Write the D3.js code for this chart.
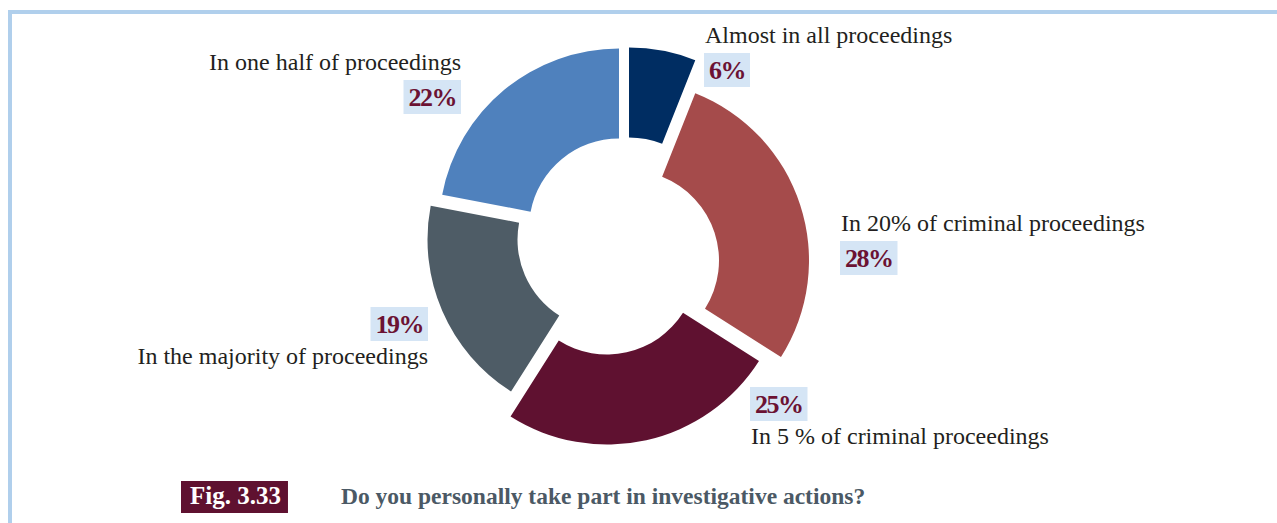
<!DOCTYPE html>
<html>
<head>
<meta charset="utf-8">
<script src="https://cdn.jsdelivr.net/npm/d3@7/dist/d3.min.js"></script>
<style>
  html, body { margin: 0; padding: 0; background: #ffffff; }
  svg { display: block; }
</style>
</head>
<body>
<svg id="chart" width="1277" height="523"></svg>
<script>
// Survey answers, clockwise from twelve o'clock
const categories = [
  "Almost in all proceedings",
  "In 20% of criminal proceedings",
  "In 5 % of criminal proceedings",
  "In the majority of proceedings",
  "In one half of proceedings"
];
const shares = [6, 28, 25, 19, 22];
const sliceColors = ["#002d62", "#a54b4b", "#5f1130", "#4e5c66", "#4f81bd"];

const figureNumber = "Fig. 3.33";
const figureTitle = "Do you personally take part in investigative actions?";

// How far each slice is pulled away from the ring centre (exploded doughnut)
const sliceShift = [
  [11, -16.5],
  [11, 16.5],
  [-11, 20.5],
  [-10.5, -4.5],
  [1, -15.5]
];

// Label layout: where each category text and its percentage badge sit
// side: "start" grows right from x, "end" grows left to x
// order: "text-first" puts the category above the badge
const labelLayout = [
  { x: 705, side: "start", order: "text-first", top: 22 },
  { x: 841, side: "start", order: "text-first", top: 210 },
  { x: 751, side: "start", order: "badge-first", top: 387 },
  { x: 428, side: "end",   order: "badge-first", top: 307 },
  { x: 461, side: "end",   order: "text-first", top: 49 }
];

const svg = d3.select("#chart");
const W = 1277, H = 523;
const serif = "'Liberation Serif', 'Times New Roman', serif";

// Light blue frame on top and left
const frameColor = "#b0cfec";
svg.append("rect").attr("x", 8).attr("y", 10).attr("width", W - 8).attr("height", 4).attr("fill", frameColor);
svg.append("rect").attr("x", 8).attr("y", 10).attr("width", 4).attr("height", H - 10).attr("fill", frameColor);

// Doughnut
const cx = 618, cy = 244;
const pie = d3.pie().sort(null).value(d => d).startAngle(0).endAngle(2 * Math.PI);
const arcs = pie(shares);
const arc = d3.arc()
  .innerRadius(90)
  .outerRadius(180);

const ring = svg.append("g")
  .attr("transform", `translate(${cx},${cy})`);

ring.selectAll("path")
  .data(arcs)
  .join("path")
  .attr("d", arc)
  .attr("transform", (d, i) => `translate(${sliceShift[i][0]},${sliceShift[i][1]})`)
  .attr("fill", (d, i) => sliceColors[i]);

// Labels
const textColor = "#231f20";
const badgeFill = "#d5e5f5";
const badgeText = "#6b1233";
const textSize = 24, badgeSize = 26, badgeH = 34, lineGap = 21;

arcs.forEach((d, i) => {
  const L = labelLayout[i];
  const g = svg.append("g");
  const anchor = L.side === "start" ? "start" : "end";

  let textBase, badgeTop;
  if (L.order === "text-first") {
    textBase = L.top + lineGap;
    badgeTop = textBase + 10;
  } else {
    badgeTop = L.top;
    textBase = badgeTop + badgeH + lineGap + 2;
  }

  g.append("text")
    .attr("x", L.x)
    .attr("y", textBase)
    .attr("text-anchor", anchor)
    .attr("font-family", serif)
    .attr("font-size", textSize)
    .attr("fill", textColor)
    .text(categories[i]);

  const rect = g.append("rect")
    .attr("y", badgeTop)
    .attr("height", badgeH)
    .attr("fill", badgeFill);

  const pct = g.append("text")
    .attr("y", badgeTop + badgeH - 8)
    .attr("font-family", serif)
    .attr("font-size", badgeSize)
    .attr("font-weight", "bold")
    .attr("letter-spacing", "-1.5px")
    .attr("fill", badgeText)
    .text(d.data + "%");

  const w = pct.node().getComputedTextLength();
  const padX = 5;
  const bw = w + padX * 2;
  const bx = L.side === "start" ? L.x - 1 : L.x - bw;
  rect.attr("x", bx).attr("width", bw);
  pct.attr("x", bx + padX);
});

// Caption
const capY = 481, capH = 32;
const fig = svg.append("g");
const figText = fig.append("text")
  .attr("x", 190)
  .attr("y", capY + capH - 9)
  .attr("font-family", serif)
  .attr("font-size", 25)
  .attr("font-weight", "bold")
  .attr("fill", "#ffffff")
  .text(figureNumber);
const fw = figText.node().getComputedTextLength();
fig.insert("rect", "text")
  .attr("x", 181)
  .attr("y", capY)
  .attr("width", fw + 16)
  .attr("height", capH)
  .attr("fill", "#5f1130");

svg.append("text")
  .attr("x", 341)
  .attr("y", capY + capH - 9)
  .attr("font-family", serif)
  .attr("font-size", 23.5)
  .attr("font-weight", "bold")
  .attr("fill", "#4b5965")
  .text(figureTitle);
</script>
</body>
</html>
